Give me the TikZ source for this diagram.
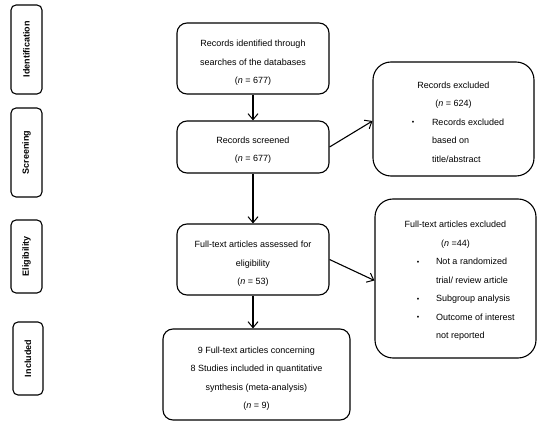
\documentclass[tikz,border=0pt]{standalone}
\usepackage{fontspec}
\setmainfont{Liberation Sans}
\usetikzlibrary{arrows.meta}
\tikzset{
  box/.style={draw, line width=1.1pt, rounded corners=10pt, align=center, inner sep=0pt,
    font=\fontsize{9}{18.5}\selectfont},
  exbox/.style={box, rounded corners=18pt, align=left},
  sidebox/.style={draw, line width=1.1pt, rounded corners=5pt, inner sep=0pt, rotate=90,
    font=\fontsize{9}{11}\selectfont\bfseries},
  arr/.style={line width=1.1pt, -{Straight Barb[length=6pt,width=10pt,line width=1pt]}}
}
\newcommand{\tp}[1]{\rule{0pt}{#1}}
\newcommand{\ctr}[2]{\makebox[#1][c]{#2}}
\newcommand{\bul}[4]{\makebox[#1][l]{\hspace*{#2}\makebox[0pt][c]{\raisebox{0.5pt}{\scriptsize •}}\hspace*{#3}#4}}
\newcommand{\ind}[3]{\makebox[#1][l]{\hspace*{#2}#3}}
\begin{document}
\begin{tikzpicture}[x=1pt,y=-1pt]
\useasboundingbox (0,0) rectangle (550,425);
% side labels
\node[sidebox, minimum width=89pt, minimum height=31pt] (s1) at (26.5,49.5) {Identification};
\node[sidebox, minimum width=89pt, minimum height=31pt] (s2) at (26.5,152.5) {Screening};
\node[sidebox, minimum width=73pt, minimum height=31pt] (s3) at (26.5,256.5) {Eligibility};
\node[sidebox, minimum width=73pt, minimum height=30pt] (s4) at (28,358.5) {Included};
% main boxes
\node[box, minimum width=152pt, minimum height=71pt] (b1) at (253,58.5)
  {\tp{15pt}Records identified through\\searches of the databases\\(\textit{n} = 677)};
\node[box, minimum width=152pt, minimum height=52pt] (b2) at (253,147)
  {\tp{13pt}Records screened\\(\textit{n} = 677)};
\node[box, minimum width=152pt, minimum height=71pt] (b3) at (253,259.5)
  {\tp{15pt}Full-text articles assessed for\\eligibility\\(\textit{n} = 53)};
\node[box, minimum width=187pt, minimum height=91pt] (b4) at (256.5,374.5)
  {\tp{15pt}9 Full-text articles concerning\\8 Studies included in quantitative\\synthesis (meta-analysis)\\(\textit{n} = 9)};
% exclusion boxes
\node[exbox, minimum width=161pt, minimum height=114pt] (e1) at (453.5,119)
  {\tp{13pt}\ctr{161pt}{Records excluded}\\
   \ctr{161pt}{(\textit{n} = 624)}\\
   \bul{161pt}{40pt}{19pt}{Records excluded}\\
   \ind{161pt}{59pt}{based on}\\
   \ind{161pt}{59pt}{title/abstract}};
\node[exbox, minimum width=161pt, minimum height=159pt] (e2) at (455.5,278.5)
  {\tp{11pt}\ctr{161pt}{Full-text articles excluded}\\
   \ctr{161pt}{(\textit{n} =44)}\\
   \bul{161pt}{43pt}{18pt}{Not a randomized}\\
   \ind{161pt}{61pt}{trial/ review article}\\
   \bul{161pt}{43pt}{18pt}{Subgroup analysis}\\
   \bul{161pt}{43pt}{18pt}{Outcome of interest}\\
   \ind{161pt}{61pt}{not reported}};
% connectors
\draw[arr] (b1.south) -- (b2.north);
\draw[arr] (b2.south) -- (b3.north);
\draw[arr] (b3.south) -- (b3.south |- b4.north);
\draw[arr] (b2.east) -- ([yshift=-2pt]e1.west);
\draw[arr] (b3.east) -- ([yshift=-2pt]e2.west);
\end{tikzpicture}
\end{document}
